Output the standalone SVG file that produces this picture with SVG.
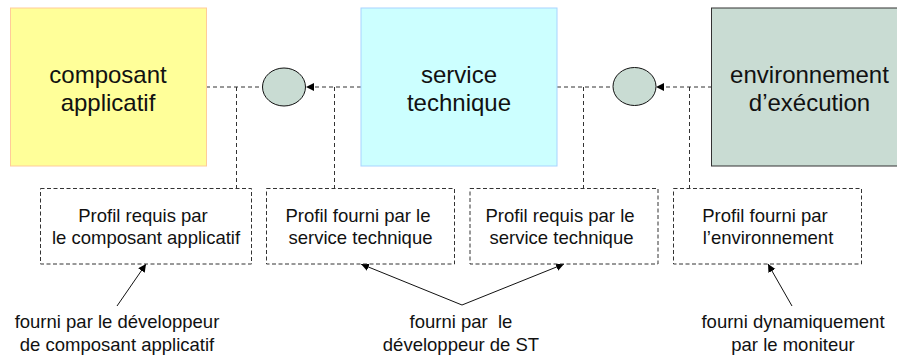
<svg xmlns="http://www.w3.org/2000/svg" width="897" height="356" viewBox="0 0 897 356">
<style>
text{font-family:"Liberation Sans",Arial,sans-serif;fill:#111;text-anchor:middle}
.big{font-size:24px}
.sn{font-size:18.5px}
.box{fill:#fff;stroke:#333;stroke-width:1;stroke-dasharray:4 2.5}
.ell{fill:#c9dcd3;stroke:#111;stroke-width:1}
.dash{fill:none;stroke:#333;stroke-width:1;stroke-dasharray:4 3}
.solid{fill:none;stroke:#111;stroke-width:1}
</style>
<defs>
<marker id="a" markerUnits="userSpaceOnUse" markerWidth="9" markerHeight="9" refX="8" refY="4" orient="auto"><path d="M0 0L8 4L0 8Z" fill="#000"/></marker>
</defs>
<rect width="897" height="356" fill="#fff"/>
<g id="connectors">
<path class="dash" d="M206 87H262"/>
<path class="dash" d="M361 87H306" marker-end="url(#a)"/>
<path class="dash" d="M557 87H613"/>
<path class="dash" d="M712 87H656" marker-end="url(#a)"/>
<path class="dash" d="M236.500 87V188"/>
<path class="dash" d="M334.500 87V188"/>
<path class="dash" d="M583.500 87V188"/>
<path class="dash" d="M689.500 87V188"/>
<path class="solid" d="M117 306L146 264" marker-end="url(#a)"/>
<path class="solid" d="M462 305L564 264" marker-end="url(#a)"/>
<path class="solid" d="M462 305L361 264" marker-end="url(#a)"/>
<path class="solid" d="M792 306L768 264" marker-end="url(#a)"/>
</g>
<g id="composant"><rect x="10.500" y="8" width="196" height="158" fill="#ffff99" stroke="#ffcc99"/><text class="big" x="108" y="82.500">composant</text><text class="big" x="108" y="110.500">applicatif</text></g>
<g id="service"><rect x="361" y="8" width="196" height="158" fill="#ccffff" stroke="#a8d4ff"/><text class="big" x="459" y="82.500">service</text><text class="big" x="459" y="110.500">technique</text></g>
<g id="environnement"><rect x="711.500" y="8" width="190" height="158" fill="#c9dcd3" stroke="#333"/><text class="big" x="809.500" y="82.500">environnement</text><text class="big" x="809.500" y="110.500">d’exécution</text></g>
<g id="interface1"><ellipse class="ell" cx="284" cy="87" rx="21.500" ry="19"/></g>
<g id="interface2"><ellipse class="ell" cx="634.500" cy="86.500" rx="21.500" ry="19"/></g>
<g id="profil1"><rect class="box" x="40.500" y="188.500" width="211" height="75.500"/><text class="sn" x="143" y="222">Profil requis par</text><text class="sn" x="146" y="244">le composant applicatif</text></g>
<g id="profil2"><rect class="box" x="266.500" y="188.500" width="188" height="75.500"/><text class="sn" x="358" y="222">Profil fourni par le</text><text class="sn" x="360.500" y="244">service technique</text></g>
<g id="profil3"><rect class="box" x="470" y="188.500" width="188" height="75.500"/><text class="sn" x="560" y="222">Profil requis par le</text><text class="sn" x="561.500" y="244">service technique</text></g>
<g id="profil4"><rect class="box" x="673.500" y="188.500" width="188" height="75.500"/><text class="sn" x="765" y="222">Profil fourni par</text><text class="sn" x="768" y="244">l’environnement</text></g>
<g id="note1"><text class="sn" x="117" y="328">fourni par le développeur</text><text class="sn" x="117" y="351">de composant applicatif</text></g>
<g id="note2"><text class="sn" x="461" y="328" xml:space="preserve">fourni par  le</text><text class="sn" x="461" y="351">développeur de ST</text></g>
<g id="note3"><text class="sn" x="793" y="328">fourni dynamiquement</text><text class="sn" x="793" y="351">par le moniteur</text></g>
</svg>
